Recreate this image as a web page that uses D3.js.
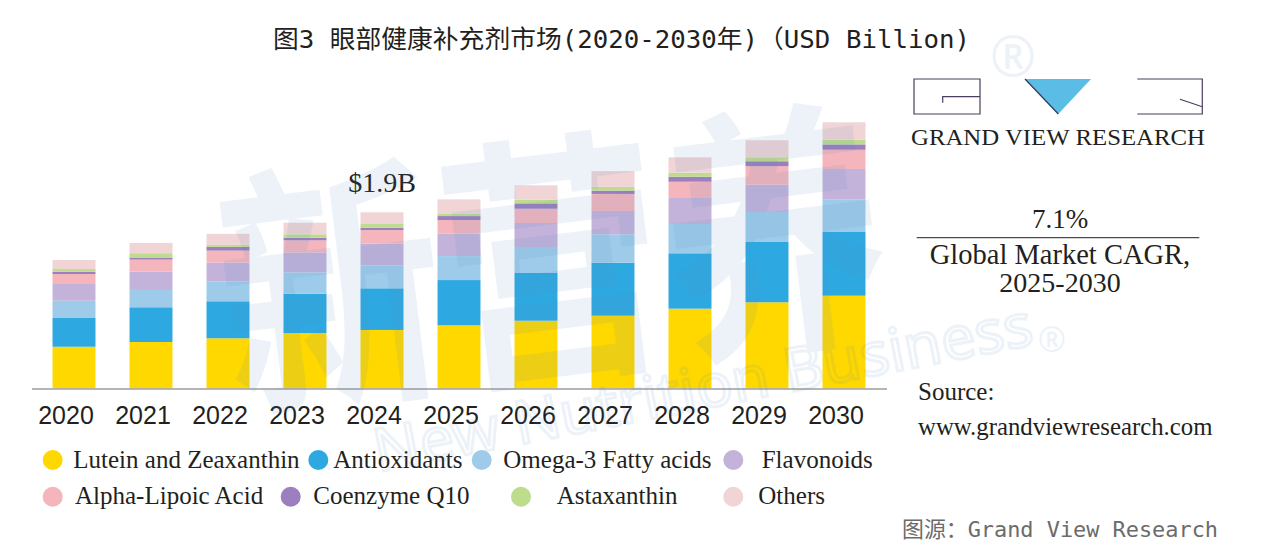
<!DOCTYPE html>
<html>
<head>
<meta charset="utf-8">
<script src="https://cdn.jsdelivr.net/npm/d3@7"></script>
<style>
  html, body { margin: 0; padding: 0; background: #fff; }
  svg { display: block; }
</style>
</head>
<body>
<div id="chart"></div>
<script>
// values in USD Billion
var years = ['2020', '2021', '2022', '2023', '2024', '2025', '2026', '2027', '2028', '2029', '2030'];

var lutein     = [0.449, 0.500, 0.540, 0.597, 0.630, 0.680, 0.730, 0.784, 0.860, 0.929, 1.000];
var antiox     = [0.310, 0.375, 0.400, 0.424, 0.450, 0.489, 0.515, 0.572, 0.598, 0.651, 0.688];
var omega3     = [0.187, 0.187, 0.212, 0.231, 0.248, 0.259, 0.281, 0.307, 0.316, 0.324, 0.353];
var flavonoids = [0.180, 0.198, 0.205, 0.216, 0.233, 0.241, 0.259, 0.252, 0.281, 0.295, 0.327];
var lipoic     = [0.108, 0.130, 0.130, 0.130, 0.148, 0.148, 0.154, 0.184, 0.176, 0.199, 0.208];
var coq10      = [0.025, 0.022, 0.040, 0.028, 0.025, 0.043, 0.058, 0.036, 0.054, 0.054, 0.058];
var astax      = [0.029, 0.047, 0.022, 0.037, 0.040, 0.029, 0.039, 0.040, 0.043, 0.043, 0.050];
var others     = [0.097, 0.111, 0.119, 0.125, 0.126, 0.151, 0.156, 0.170, 0.166, 0.184, 0.188];

var seriesNames = ['Lutein and Zeaxanthin', 'Antioxidants', 'Omega-3 Fatty acids', 'Flavonoids',
                   'Alpha-Lipoic Acid', 'Coenzyme Q10', 'Astaxanthin', 'Others'];
var seriesValues = [lutein, antiox, omega3, flavonoids, lipoic, coq10, astax, others];
var seriesColors = ['#ffd800', '#2ea8e0', '#9fcbea', '#c3b3da', '#f4b5bc', '#9b7fbe', '#bddc8c', '#f0d4d6'];

var labelYear = '2024',
    labelText = '$1.9B';

var W = 1286, H = 553,
    baseY = 388.3,
    ink = '#231f20',
    serif = '"Liberation Serif", "Times New Roman", serif',
    sans = '"Liberation Sans", Arial, sans-serif',
    mono = '"DejaVu Sans Mono", "Noto Sans CJK SC", monospace';

var svg = d3.select('#chart').append('svg')
    .attr('width', W)
    .attr('height', H)
    .attr('viewBox', [0, 0, W, H].join(' '));

var x = d3.scaleBand()
    .domain(years)
    .range([35.5, 882.5])
    .paddingInner(0.442)
    .paddingOuter(0.221);

var y = d3.scaleLinear()
    .domain([0, 3])
    .range([baseY, baseY - 277.8]);

// rows for d3.stack
var table = years.map(function(yr, i) {
  var row = { year: yr };
  seriesNames.forEach(function(s, k) { row[s] = seriesValues[k][i]; });
  return row;
});

var stacked = d3.stack().keys(seriesNames)(table);

// title
svg.append('text')
    .attr('x', 273)
    .attr('y', 48)
    .attr('textLength', 697)
    .attr('lengthAdjust', 'spacingAndGlyphs')
    .style('font-family', mono)
    .style('font-size', '25px')
    .style('fill', ink)
    .text('图3 眼部健康补充剂市场(2020-2030年)（USD Billion)');

// bars
svg.append('g').selectAll('g')
    .data(stacked)
  .enter().append('g')
    .attr('fill', function(d, k) { return seriesColors[k]; })
  .selectAll('rect')
    .data(function(d) { return d; })
  .enter().append('rect')
    .attr('x', function(d) { return x(d.data.year); })
    .attr('width', x.bandwidth())
    .attr('y', function(d) { return y(d[1]); })
    .attr('height', function(d) { return y(d[0]) - y(d[1]); });

// baseline
svg.append('line')
    .attr('x1', 32).attr('x2', 887)
    .attr('y1', baseY + 0.7).attr('y2', baseY + 0.7)
    .attr('stroke', '#9d9d9d')
    .attr('stroke-width', 1.5);

// year labels (sit a little left of the bars, as in the source)
var xAxis = d3.axisBottom(x).tickSize(0).tickPadding(0);
var axisG = svg.append('g')
    .attr('transform', 'translate(-8,' + (baseY + 18) + ')')
    .call(xAxis);
axisG.select('.domain').remove();
axisG.selectAll('text')
    .style('font-family', sans)
    .style('font-size', '25px')
    .style('fill', ink);

// total label above 2024
var idx = years.indexOf(labelYear);
svg.append('text')
    .attr('x', x(labelYear) + x.bandwidth() / 2)
    .attr('y', y(d3.sum(seriesValues, function(s) { return s[idx]; })) - 20)
    .attr('text-anchor', 'middle')
    .style('font-family', serif)
    .style('font-size', '28px')
    .style('fill', ink)
    .text(labelText);

// legend
var legendPos = [
  [52.7, 460, 73.3], [318.3, 460, 333.3], [481.7, 460, 503.3], [733.3, 460, 761.7],
  [52.7, 496.7, 75], [290.7, 496.7, 313.3], [521, 496.7, 556.7], [733.3, 496.7, 758.3]
];

var legend = svg.append('g').selectAll('g')
    .data(seriesNames)
  .enter().append('g');

legend.append('circle')
    .attr('cx', function(d, k) { return legendPos[k][0]; })
    .attr('cy', function(d, k) { return legendPos[k][1]; })
    .attr('r', 10)
    .attr('fill', function(d, k) { return seriesColors[k]; });

legend.append('text')
    .attr('x', function(d, k) { return legendPos[k][2]; })
    .attr('y', function(d, k) { return legendPos[k][1] + 7.5; })
    .style('font-family', serif)
    .style('font-size', '25px')
    .style('fill', ink)
    .text(function(d) { return d; });

// right panel: logo
var logo = svg.append('g')
    .attr('fill', 'none')
    .attr('stroke', '#4b3d5e')
    .attr('stroke-width', 1.2);

logo.append('path').attr('d', 'M914,79H980V114H914Z');
logo.append('path').attr('d', 'M980,96.7H942.7V102.7');
logo.append('path').attr('d', 'M1137.3,79H1202.3V114H1137.3');
logo.append('path').attr('d', 'M1180,99.3L1202.3,106.7');

svg.append('path')
    .attr('d', 'M1025,79H1091L1058.3,114Z')
    .attr('fill', '#5bbde6');
svg.append('path')
    .attr('d', 'M1025,79L1058.3,114')
    .attr('stroke', '#2b3b5a')
    .attr('stroke-width', 1.2);

svg.append('text')
    .attr('x', 911)
    .attr('y', 145)
    .attr('textLength', 294)
    .attr('lengthAdjust', 'spacingAndGlyphs')
    .style('font-family', serif)
    .style('font-size', '22.5px')
    .style('fill', ink)
    .text('GRAND VIEW RESEARCH');

// CAGR block
var cagr = [['7.1%', 228.3, 27], ['Global Market CAGR,', 264, 28.5], ['2025-2030', 292.3, 28]];
svg.append('g').selectAll('text')
    .data(cagr)
  .enter().append('text')
    .attr('x', 1060)
    .attr('y', function(d) { return d[1]; })
    .attr('text-anchor', 'middle')
    .style('font-family', serif)
    .style('font-size', function(d) { return d[2] + 'px'; })
    .style('fill', ink)
    .text(function(d) { return d[0]; });

svg.append('line')
    .attr('x1', 916.7).attr('x2', 1199.3)
    .attr('y1', 237.7).attr('y2', 237.7)
    .attr('stroke', ink)
    .attr('stroke-width', 1);

// source
svg.append('text')
    .attr('x', 918).attr('y', 400)
    .style('font-family', serif).style('font-size', '25px').style('fill', ink)
    .text('Source:');
svg.append('text')
    .attr('x', 918).attr('y', 435)
    .style('font-family', serif).style('font-size', '24.8px').style('fill', ink)
    .text('www.grandviewresearch.com');

svg.append('text')
    .attr('x', 902).attr('y', 537)
    .attr('textLength', 316)
    .attr('lengthAdjust', 'spacingAndGlyphs')
    .style('font-family', mono).style('font-size', '22px').style('fill', '#6b6b6b')
    .text('图源：Grand View Research');

// watermark
var wm = svg.append('g')
    .attr('pointer-events', 'none')
    .style('opacity', 0.1);

wm.append('text')
    .attr('transform', 'translate(232,400) rotate(-7) scale(1,1.1)')
    .attr('textLength', 670)
    .attr('lengthAdjust', 'spacingAndGlyphs')
    .style('font-family', '"Noto Sans CJK SC", sans-serif')
    .style('font-weight', 700)
    .style('font-size', '240px')
    .style('fill', '#4f8cc2')
    .text('新营养');

wm.append('text')
    .attr('transform', 'translate(378,472) rotate(-11)')
    .attr('textLength', 670)
    .attr('lengthAdjust', 'spacingAndGlyphs')
    .style('font-family', '"Noto Sans", sans-serif')
    .style('font-size', '60px')
    .style('fill', 'none')
    .style('stroke', '#4f8cc2')
    .style('stroke-width', 3)
    .text('New Nutrition Business');

wm.append('text')
    .attr('x', 1013).attr('y', 76)
    .attr('text-anchor', 'middle')
    .style('font-family', '"Noto Sans", sans-serif')
    .style('font-size', '56px')
    .style('fill', '#4f8cc2')
    .text('®');
wm.append('text')
    .attr('x', 1052).attr('y', 352)
    .attr('text-anchor', 'middle')
    .style('font-family', '"Noto Sans", sans-serif')
    .style('font-size', '34px')
    .style('fill', '#4f8cc2')
    .text('®');
</script>
</body>
</html>
